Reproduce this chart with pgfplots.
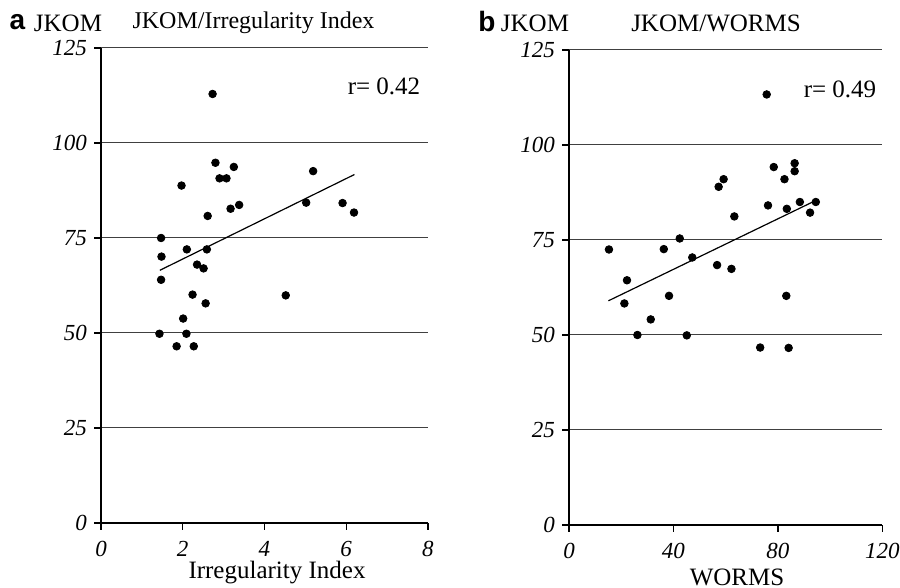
\documentclass[border=0pt]{standalone}
\usepackage{fontspec}
\setmainfont{Liberation Serif}
\setsansfont{Liberation Sans}
\usepackage{pgfplots}
\pgfplotsset{compat=1.18}

\pgfplotsset{panel/.style={
  scale only axis, height=237.5pt,
  ymin=0, ymax=125, ytick={0,25,...,125},
  axis lines*=left, tick align=outside, major tick length=3.5pt,
  ymajorgrids, grid style={black!75, line width=0.5pt},
  axis line style={line width=0.7pt}, tick style={black, line width=0.6pt},
  /pgf/number format/assume math mode=true,
  tick label style={font=\fontsize{11.5}{13}\selectfont\itshape},
  xticklabel style={yshift=-2pt},
  clip=false,
}}

\begin{document}
\begin{tikzpicture}
\useasboundingbox (0,0) rectangle (450pt,294pt);

% panel a
\begin{axis}[panel, at={(50.5pt,32.5pt)}, anchor=south west, width=163.5pt,
  xmin=0, xmax=8, xtick={0,2,4,6,8}]
  \addplot[only marks, mark=*, mark size=1.9pt, black] coordinates {
    (2.73,112.9)(2.80,94.8)(3.25,93.7)(2.90,90.7)(3.07,90.7)(1.97,88.8)
    (5.19,92.6)(3.38,83.7)(3.17,82.7)(2.61,80.8)(5.02,84.3)(5.91,84.2)
    (6.19,81.7)(1.47,75.0)(2.10,72.0)(2.59,72.0)(1.48,70.1)(2.35,68.0)
    (2.51,67.0)(1.47,64.0)(2.24,60.1)(2.56,57.8)(4.52,59.9)(2.01,53.8)
    (1.43,49.8)(2.09,49.8)(1.85,46.5)(2.27,46.5)
  };
  \addplot[black, line width=0.6pt] coordinates {(1.44,66.5)(6.20,91.7)};
\end{axis}

% panel b
\begin{axis}[panel, at={(284.5pt,31.5pt)}, anchor=south west, width=156.7pt,
  xmin=0, xmax=120, xtick={0,40,80,120}]
  \addplot[only marks, mark=*, mark size=1.9pt, black] coordinates {
    (15.3,72.5)(22.2,64.4)(21.2,58.3)(26.2,50.0)(31.3,54.1)(36.3,72.6)
    (38.3,60.3)(42.4,75.4)(45.1,49.9)(47.2,70.4)(56.7,68.4)(57.3,89.0)
    (59.2,91.0)(62.2,67.4)(63.3,81.2)(73.2,46.7)(76.2,84.1)(78.4,94.2)
    (82.5,91.0)(83.4,83.2)(83.2,60.3)(84.1,46.6)(86.4,95.2)(86.4,93.1)
    (88.4,85.0)(92.3,82.2)(94.5,85.0)(75.7,113.3)
  };
  \addplot[black, line width=0.6pt] coordinates {(15.1,59.0)(94.2,85.3)};
\end{axis}

% labels
\node[font=\sffamily\bfseries\fontsize{14}{16}\selectfont] at (8.75pt,283pt) {a};
\node[font=\fontsize{12.5}{14}\selectfont] at (34pt,282.5pt) {JKOM};
\node[font=\fontsize{12}{14}\selectfont] at (126.75pt,282.5pt) {JKOM/Irregularity Index};
\node[font=\fontsize{12.5}{14}\selectfont] at (192pt,251pt) {r= 0.42};
\node[font=\fontsize{12.5}{14}\selectfont] at (138.5pt,7.5pt) {Irregularity Index};

\node[font=\sffamily\bfseries\fontsize{14}{16}\selectfont] at (243.5pt,283pt) {b};
\node[font=\fontsize{12.5}{14}\selectfont] at (267.5pt,282.5pt) {JKOM};
\node[font=\fontsize{12.5}{14}\selectfont] at (358pt,282.5pt) {JKOM/WORMS};
\node[font=\fontsize{12.5}{14}\selectfont] at (420pt,249.5pt) {r= 0.49};
\node[font=\fontsize{12.5}{14}\selectfont] at (368.5pt,5.5pt) {WORMS};
\end{tikzpicture}
\end{document}
